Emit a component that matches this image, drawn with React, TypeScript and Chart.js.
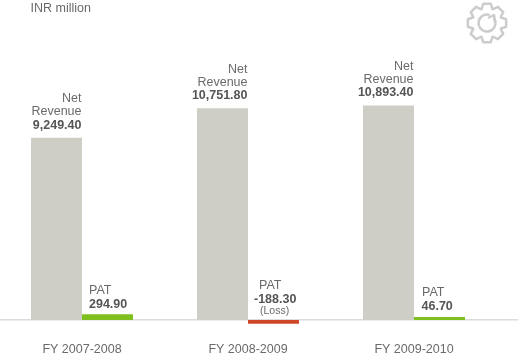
import React, { useEffect, useRef } from "react";
import { Chart, registerables } from "chart.js";

Chart.register(...registerables);

const categories = ["FY 2007-2008", "FY 2008-2009", "FY 2009-2010"];
const netRevenue = [9249.4, 10751.8, 10893.4];
const pat = [294.9, -188.3, 46.7];
const revenueLabels = ["9,249.40", "10,751.80", "10,893.40"];
const patLabels = ["294.90", "-188.30", "46.70"];
const lossNote = "(Loss)";
const unitLabel = "INR million";
const FONT = '"Liberation Sans", Arial, sans-serif';
const SIZE = 12.5;

const annotations = {
  id: "annotations",
  beforeDatasetsDraw(chart: any) {
    const { ctx, scales } = chart;
    const y0 = Math.floor(scales.y.getPixelForValue(0));
    ctx.save();
    ctx.fillStyle = "#dcdcdc";
    ctx.fillRect(0, y0, chart.width, 1.5);
    ctx.restore();
  },
  afterDatasetsDraw(chart: any) {
    const { ctx } = chart;
    ctx.save();
    const rev = chart.getDatasetMeta(0).data;
    const pr = chart.getDatasetMeta(1).data;
    const plain = `${SIZE}px ${FONT}`;
    const bold = `bold ${SIZE}px ${FONT}`;
    const grey = "#6a6a6a";
    const dark = "#555555";
    ctx.textBaseline = "alphabetic";
    ctx.fillStyle = grey;
    ctx.font = plain;
    ctx.textAlign = "left";
    ctx.fillText(unitLabel, 31.5, 12);
    rev.forEach((b: any, i: number) => {
      const r = b.x + b.width / 2 - 0.5;
      ctx.textAlign = "right";
      ctx.fillStyle = grey;
      ctx.font = plain;
      ctx.fillText("Net", r, b.y - 35.5);
      ctx.fillText("Revenue", r, b.y - 22.5);
      ctx.fillStyle = dark;
      ctx.font = bold;
      ctx.fillText(revenueLabels[i], r, b.y - 9);
    });
    const patX = [-18.5, -14.5, -17.5];
    const valX = [-18.5, -19.5, -18];
    pr.forEach((b: any, i: number) => {
      ctx.textAlign = "left";
      const neg = pat[i] < 0;
      const base = neg ? 303 : b.y - 6.5;
      ctx.fillStyle = grey;
      ctx.font = plain;
      ctx.fillText("PAT", b.x + patX[i], base - 14);
      ctx.fillStyle = dark;
      ctx.font = bold;
      ctx.fillText(patLabels[i], b.x + valX[i], base);
      if (neg) {
        ctx.fillStyle = grey;
        ctx.font = `10.5px ${FONT}`;
        ctx.fillText(lossNote, b.x - 13.5, 314);
      }
    });
    // gear icon
    const cx = 488, cy = 23, teeth = 8;
    ctx.strokeStyle = "#cccccc";
    ctx.lineWidth = 2.5;
    ctx.lineJoin = "round";
    ctx.beginPath();
    for (let t = 0; t < teeth; t++) {
      const a = (t / teeth) * Math.PI * 2 - Math.PI / 2;
      const s = Math.PI / teeth;
      const pts: [number, number][] = [
        [15, a - s * 0.95], [19.5, a - s * 0.5], [19.5, a + s * 0.5], [15, a + s * 0.95],
      ];
      pts.forEach(([r, an]) => {
        ctx.lineTo(cx + r * Math.cos(an), cy + r * Math.sin(an));
      });
    }
    ctx.closePath();
    ctx.stroke();
    ctx.beginPath();
    ctx.arc(cx, cy, 8.5, -Math.PI * 0.2, Math.PI * 1.6);
    ctx.stroke();
    ctx.beginPath();
    ctx.moveTo(cx + 1, cy - 5);
    ctx.lineTo(cx + 7, cy - 8);
    ctx.lineTo(cx + 8, cy - 1);
    ctx.stroke();
    ctx.restore();
  },
};

export default function App() {
  const ref = useRef<HTMLCanvasElement>(null);
  useEffect(() => {
    document.body.style.margin = "0";
    const chart = new Chart(ref.current!, {
      type: "bar",
      data: {
        labels: categories,
        datasets: [
          { label: "Net Revenue", data: netRevenue, backgroundColor: "#cfcec6", barPercentage: 1, categoryPercentage: 102 / 166 },
          {
            label: "PAT",
            data: pat,
            backgroundColor: pat.map((v) => (v < 0 ? "#cf4527" : "#7fbf1f")),
            barPercentage: 1,
            categoryPercentage: 102 / 166,
            minBarLength: 3,
          },
        ],
      },
      options: {
        responsive: false,
        animation: false,
        layout: { padding: { left: 0, right: 21, top: 0, bottom: 0 } },
        plugins: { legend: { display: false }, tooltip: { enabled: false } },
        scales: {
          x: {
            grid: { display: false },
            border: { display: false },
            afterFit: (s: any) => { s.height = 27; },
            ticks: { color: "#6a6a6a", font: { family: FONT, size: SIZE }, padding: 4, maxRotation: 0 },
          },
          y: {
            display: false,
            min: -508,
            max: 16244,
          },
        },
      },
      plugins: [annotations],
    });
    return () => chart.destroy();
  }, []);
  return <canvas ref={ref} width={519} height={357} style={{ display: "block", marginLeft: -1 }} />;
}
